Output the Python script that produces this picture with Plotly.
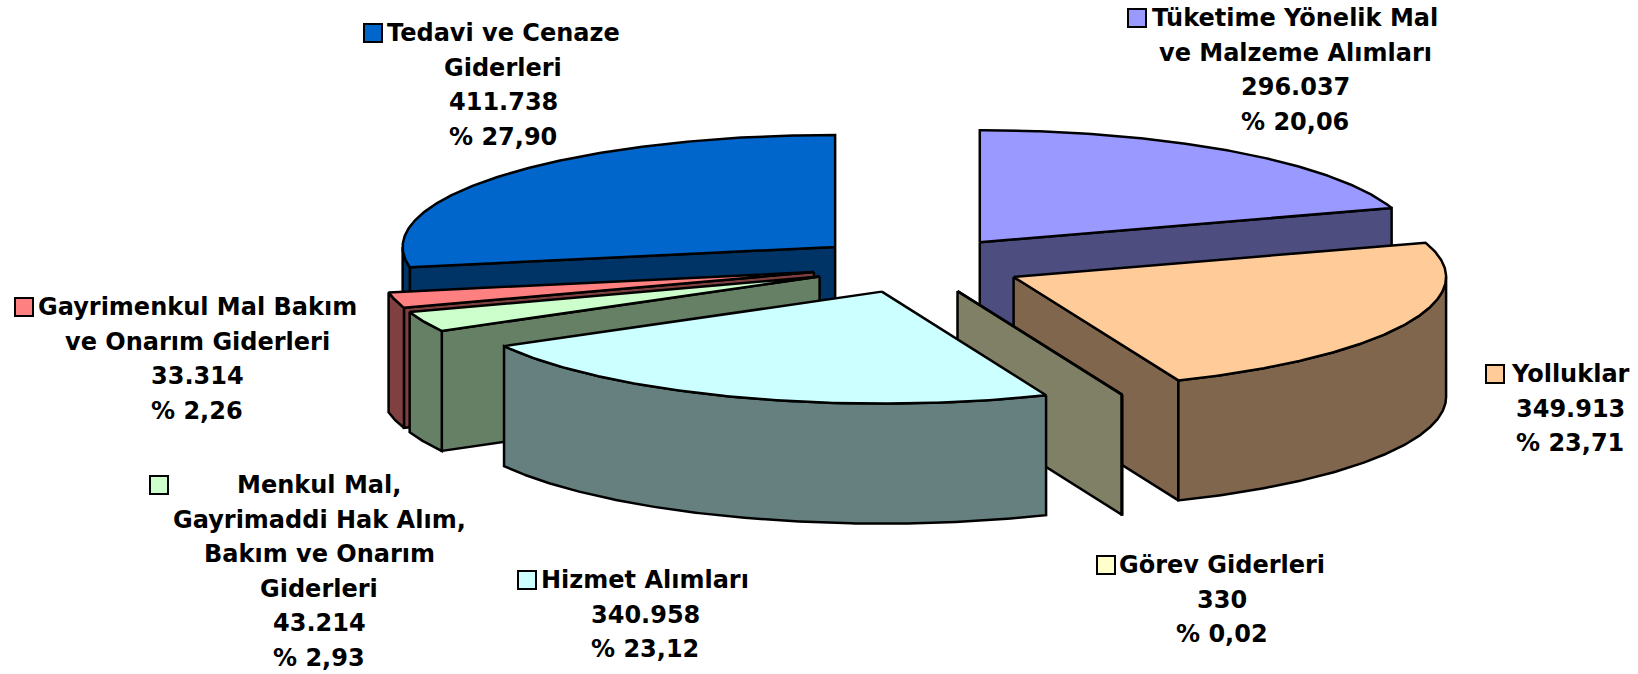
import numpy as np
import plotly.graph_objects as go

# ---- data (clockwise from 12 o'clock) ----
categories = ["Tüketime Yönelik Mal ve Malzeme Alımları", "Yolluklar", "Görev Giderleri",
              "Hizmet Alımları", "Menkul Mal, Gayrimaddi Hak Alım, Bakım ve Onarım Giderleri",
              "Gayrimenkul Mal Bakım ve Onarım Giderleri", "Tedavi ve Cenaze Giderleri"]
values = [296037, 349913, 330, 340958, 43214, 33314, 411738]
value_labels = ["296.037", "349.913", "330", "340.958", "43.214", "33.314", "411.738"]
percent_labels = ["% 20,06", "% 23,71", "% 0,02", "% 23,12", "% 2,93", "% 2,26", "% 27,90"]
name_lines = [["Tüketime Yönelik Mal", "ve Malzeme Alımları"], ["Yolluklar"], ["Görev Giderleri"],
              ["Hizmet Alımları"], ["Menkul Mal,", "Gayrimaddi Hak Alım,", "Bakım ve Onarım", "Giderleri"],
              ["Gayrimenkul Mal Bakım", "ve Onarım Giderleri"], ["Tedavi ve Cenaze", "Giderleri"]]
top_colors = ["#9999FF", "#FFCC99", "#FFFFCC", "#CCFFFF", "#CCFFCC", "#FF8080", "#0066CC"]
side_colors = ["#4D4D80", "#80664D", "#808066", "#668080", "#668066", "#804040", "#003366"]

# ---- layout of the pie projection (pixels of the 1638x674 canvas) ----
W, H = 1638, 674
CX, CY, RX, RY, DEPTH, EX, EY = 917, 265, 432.5, 112, 120, 106.5, 28.2
draw_order = [6, 0, 5, 4, 1, 2, 3]
# label centre x, first-line y, legend-key centre x
label_x = [1295, 1570, 1222, 645, 319, 197, 503]
label_y = [18, 374, 565, 580, 485, 307, 33]
key_x = [1137, 1495, 1106, 527, 159, 24, 373]
LINE_PITCH = 34.5
FONT = dict(family="DejaVu Sans", size=24, color="black")

total = sum(values)
edges = np.concatenate([[0], np.cumsum(values)]) / total * 360.0


def arc(ax, ay, a0, a1):
    t = np.radians(np.linspace(a0, a1, max(2, int((a1 - a0) * 2) + 2)))
    return ax + RX * np.sin(t), ay - RY * np.cos(t)


fig = go.Figure()


def face(xs, ys, color, name):
    fig.add_trace(go.Scatter(x=list(xs), y=list(ys), mode="lines", fill="toself", fillcolor=color,
                             line=dict(color="black", width=2.5, shape="linear"),
                             name=name, hoverinfo="skip", showlegend=False))


for i in draw_order:
    a0, a1 = edges[i], edges[i + 1]
    mid = np.radians((a0 + a1) / 2)
    ax, ay = CX + EX * np.sin(mid), CY - EY * np.cos(mid)
    for a, visible in ((a0, np.sin(np.radians(a0)) < 0), (a1, np.sin(np.radians(a1)) > 0)):
        if visible:
            ex, ey = arc(ax, ay, a, a)
            ex, ey = ex[0], ey[0]
            face([ax, ex, ex, ax, ax], [ay, ey, ey + DEPTH, ay + DEPTH, ay], side_colors[i], categories[i])
    r0, r1 = max(a0, 90), min(a1, 270)
    if r1 > r0:
        rx, ry = arc(ax, ay, r0, r1)
        face(np.r_[rx, rx[::-1], rx[0]], np.r_[ry, ry[::-1] + DEPTH, ry[0]], side_colors[i], categories[i])
    tx, ty = arc(ax, ay, a0, a1)
    face(np.r_[ax, tx, ax], np.r_[ay, ty, ay], top_colors[i], categories[i])

annotations, shapes = [], []
for i in range(len(values)):
    lines = name_lines[i] + [value_labels[i], percent_labels[i]]
    for j, line in enumerate(lines):
        annotations.append(dict(x=label_x[i], y=label_y[i] + j * LINE_PITCH, xref="x", yref="y",
                                text=f"<b>{line}</b>", showarrow=False, font=FONT,
                                xanchor="center", yanchor="middle"))
    shapes.append(dict(type="rect", xref="x", yref="y", x0=key_x[i] - 9, x1=key_x[i] + 9,
                       y0=label_y[i] - 9, y1=label_y[i] + 9, fillcolor=top_colors[i],
                       line=dict(color="black", width=2)))

fig.update_layout(width=W, height=H, margin=dict(l=0, r=0, t=0, b=0), autosize=False,
                  paper_bgcolor="white", plot_bgcolor="white", showlegend=False,
                  annotations=annotations, shapes=shapes,
                  xaxis=dict(range=[0, W], visible=False, fixedrange=True),
                  yaxis=dict(range=[H, 0], visible=False, fixedrange=True))
fig.write_html("out.html", post_script="document.body.style.margin='0';document.body.style.overflow='hidden';",
               config={"displayModeBar": False})
